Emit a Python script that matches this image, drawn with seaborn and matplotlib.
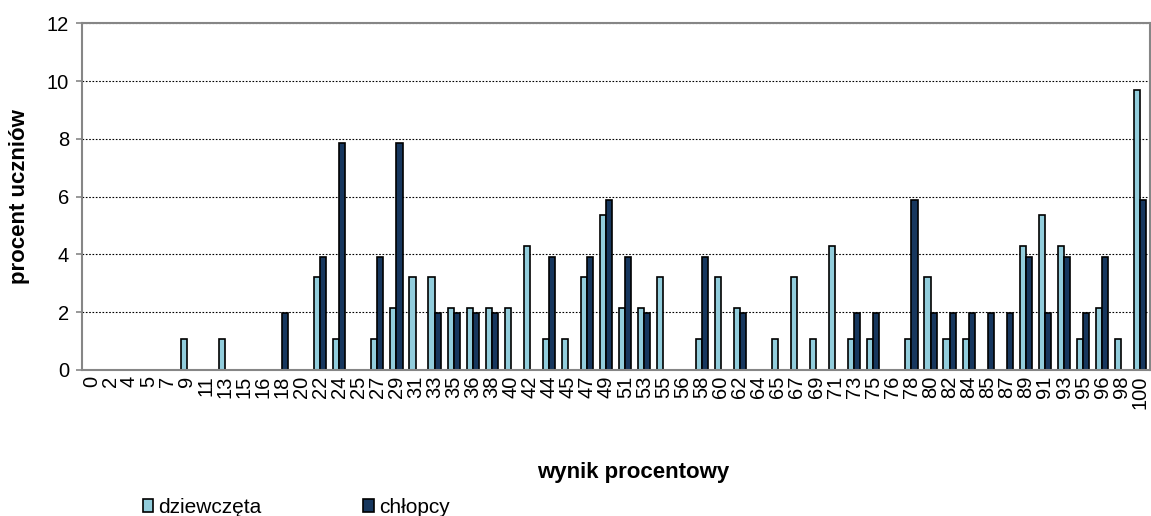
import pandas as pd
import numpy as np
import matplotlib
matplotlib.use("Agg")
import matplotlib.pyplot as plt
import seaborn as sns

# ----------------------------
# DATA
# ----------------------------
wynik = [0, 2, 4, 5, 7, 9, 11, 13, 15, 16, 18, 20, 22, 24, 25, 27, 29, 31, 33, 35,
         36, 38, 40, 42, 44, 45, 47, 49, 51, 53, 55, 56, 58, 60, 62, 64, 65, 67, 69, 71,
         73, 75, 76, 78, 80, 82, 84, 85, 87, 89, 91, 93, 95, 96, 98, 100]

dziewczeta = [0, 0, 0, 0, 0, 1.08, 0, 1.08, 0, 0, 0, 0, 3.23, 1.08, 0, 1.08, 2.15, 3.23, 3.23, 2.15,
              2.15, 2.15, 2.15, 4.30, 1.08, 1.08, 3.23, 5.38, 2.15, 2.15, 3.23, 0, 1.08, 3.23, 2.15, 0, 1.08, 3.23, 1.08, 4.30,
              1.08, 1.08, 0, 1.08, 3.23, 1.08, 1.08, 0, 0, 4.30, 5.38, 4.30, 1.08, 2.15, 1.08, 9.68]

chlopcy = [0, 0, 0, 0, 0, 0, 0, 0, 0, 0, 1.96, 0, 3.92, 7.84, 0, 3.92, 7.84, 0, 1.96, 1.96,
           1.96, 1.96, 0, 0, 3.92, 0, 3.92, 5.88, 3.92, 1.96, 0, 0, 3.92, 0, 1.96, 0, 0, 0, 0, 0,
           1.96, 1.96, 0, 5.88, 1.96, 1.96, 1.96, 1.96, 1.96, 3.92, 1.96, 3.92, 1.96, 3.92, 0, 5.88]

seria = ["dziewczęta", "chłopcy"]
kolory = ["#92CDDC", "#17375E"]

labels = [str(w) for w in wynik]
df = pd.DataFrame({
    "wynik": labels * 2,
    "procent": dziewczeta + chlopcy,
    "plec": [seria[0]] * len(labels) + [seria[1]] * len(labels),
})

# ----------------------------
# PLOT
# ----------------------------
sns.set_style("white", {"text.color": "black", "axes.labelcolor": "black",
                        "xtick.color": "black", "ytick.color": "black"})
plt.rcParams['font.family'] = ['Liberation Sans', 'DejaVu Sans']

fig = plt.figure(figsize=(11.51, 5.16), dpi=100)
ax = fig.add_axes([0.071, 0.283, 0.928, 0.672])

sns.barplot(data=df, x="wynik", y="procent", hue="plec", order=labels,
            hue_order=seria, palette=kolory, width=0.64, edgecolor="black",
            linewidth=1.2, saturation=1, ax=ax, legend=True)

ax.set_ylim(0, 12)
ax.set_yticks(range(0, 13, 2))
ax.set_xlim(-0.5, len(labels) - 0.5)

ax.yaxis.grid(True, linestyle=(0, (1.5, 1.5)), color="black", linewidth=0.8)
ax.set_axisbelow(True)

for s in ax.spines.values():
    s.set_color("#868686")
    s.set_linewidth(1.5)

# tick marks between categories
ax.set_xticks(np.arange(-0.5, len(labels), 1), minor=True)
ax.tick_params(axis="x", which="major", length=0, labelsize=14.5, labelrotation=90, pad=4,
               labelcolor="black")
ax.tick_params(axis="x", which="minor", length=5, width=1.2, color="#868686", direction="out")
ax.tick_params(axis="y", length=4, width=1.2, color="#868686", labelsize=14.5, left=True, pad=5,
               labelcolor="black")

ax.set_xlabel("wynik procentowy", fontsize=16, fontweight="bold", labelpad=38, color="black")
ax.xaxis.set_label_coords(0.516, -0.265)
ax.set_ylabel("procent uczniów", fontsize=16, fontweight="bold", labelpad=12, color="black")

leg = ax.legend(loc="lower left", bbox_to_anchor=(0.122, -0.006), bbox_transform=fig.transFigure,
                ncol=2, frameon=False, fontsize=15, handlelength=0.5, handleheight=0.6,
                handletextpad=0.25, columnspacing=4.9, borderaxespad=0, borderpad=0.1)
for h in leg.legend_handles:
    h.set_edgecolor("black")
    h.set_linewidth(1.2)
for t in leg.get_texts():
    t.set_color("black")

plt.savefig("out.png", dpi=100)
